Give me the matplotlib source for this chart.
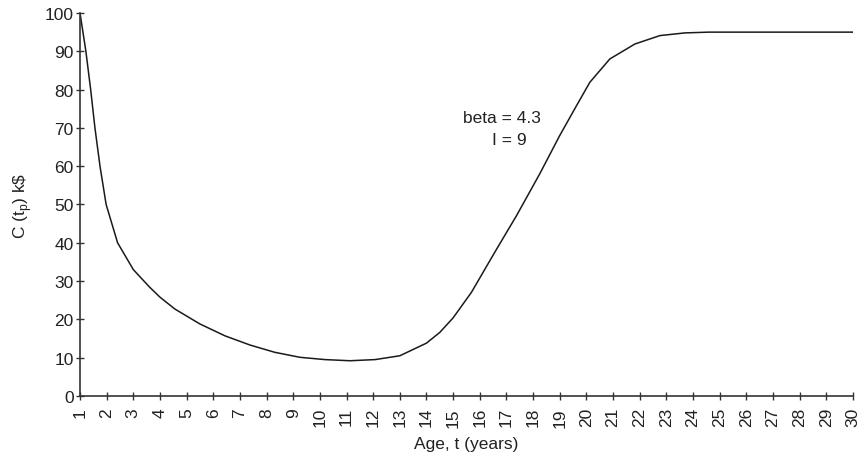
import matplotlib
matplotlib.use("Agg")
import matplotlib.pyplot as plt

# Cost curve C(t_p) in k$ against age t (years)
ages = [1.0, 1.22, 1.4, 1.56, 1.75, 1.98, 2.41, 3.0, 3.6, 4.0, 4.56, 5.5,
        6.44, 7.38, 8.31, 9.25, 10.19, 11.13, 12.07, 13.0, 14.0, 14.5, 15.0,
        15.69, 16.56, 17.38, 18.25, 19.0, 19.63, 20.13, 20.88, 21.82, 22.76,
        23.7, 24.6, 30.0]
cost = [100.0, 90.0, 80.0, 70.0, 60.0, 50.0, 40.0, 33.0, 28.5, 25.8, 22.7, 18.8,
        15.7, 13.3, 11.4, 10.1, 9.5, 9.2, 9.5, 10.5, 13.8, 16.6, 20.4,
        27.1, 37.5, 47.1, 58.0, 68.0, 75.8, 81.9, 88.0, 91.9, 94.1,
        94.8, 95.0, 95.0]

x_ticks = list(range(1, 31))
y_ticks = list(range(0, 101, 10))
beta_label = "beta = 4.3"
l_label = "I = 9"

plt.rcParams["font.family"] = ["Liberation Sans", "DejaVu Sans"]
axis_color = "#333333"
text_color = "#222222"

fig = plt.figure(figsize=(8.65, 4.6), dpi=100)
ax = fig.add_axes([0.0925, 0.137, 0.8935, 0.8326])

ax.plot(ages, cost, color="#1a1a1a", lw=1.1, solid_joinstyle="round")

ax.set_xlim(1, 30)
ax.set_ylim(0, 100)
ax.set_xticks(x_ticks)
ax.set_xticklabels([str(v) for v in x_ticks], rotation=90, fontsize=12.5)
ax.set_yticks(y_ticks)
ax.set_yticklabels([str(v) for v in y_ticks], fontsize=12.5)
ax.tick_params(axis="both", direction="inout", length=6, width=1.0,
               colors=axis_color, labelcolor=text_color)
ax.tick_params(axis="x", pad=5)
ax.tick_params(axis="y", pad=1.5)

for side in ("top", "right"):
    ax.spines[side].set_visible(False)
for side in ("left", "bottom"):
    ax.spines[side].set_color(axis_color)
    ax.spines[side].set_linewidth(1.2)

ax.set_xlabel("Age, t (years)", fontsize=12.5, color=text_color, labelpad=7)
ax.set_ylabel(r"C (t$_\mathregular{p}$) k\$", fontsize=12.5, color=text_color,
              labelpad=8)

ax.text(16.83, 71.5, beta_label, ha="center", va="baseline", fontsize=12.5,
        color=text_color)
ax.text(17.11, 65.8, l_label, ha="center", va="baseline", fontsize=12.5,
        color=text_color)

fig.savefig("out.png", dpi=100)
